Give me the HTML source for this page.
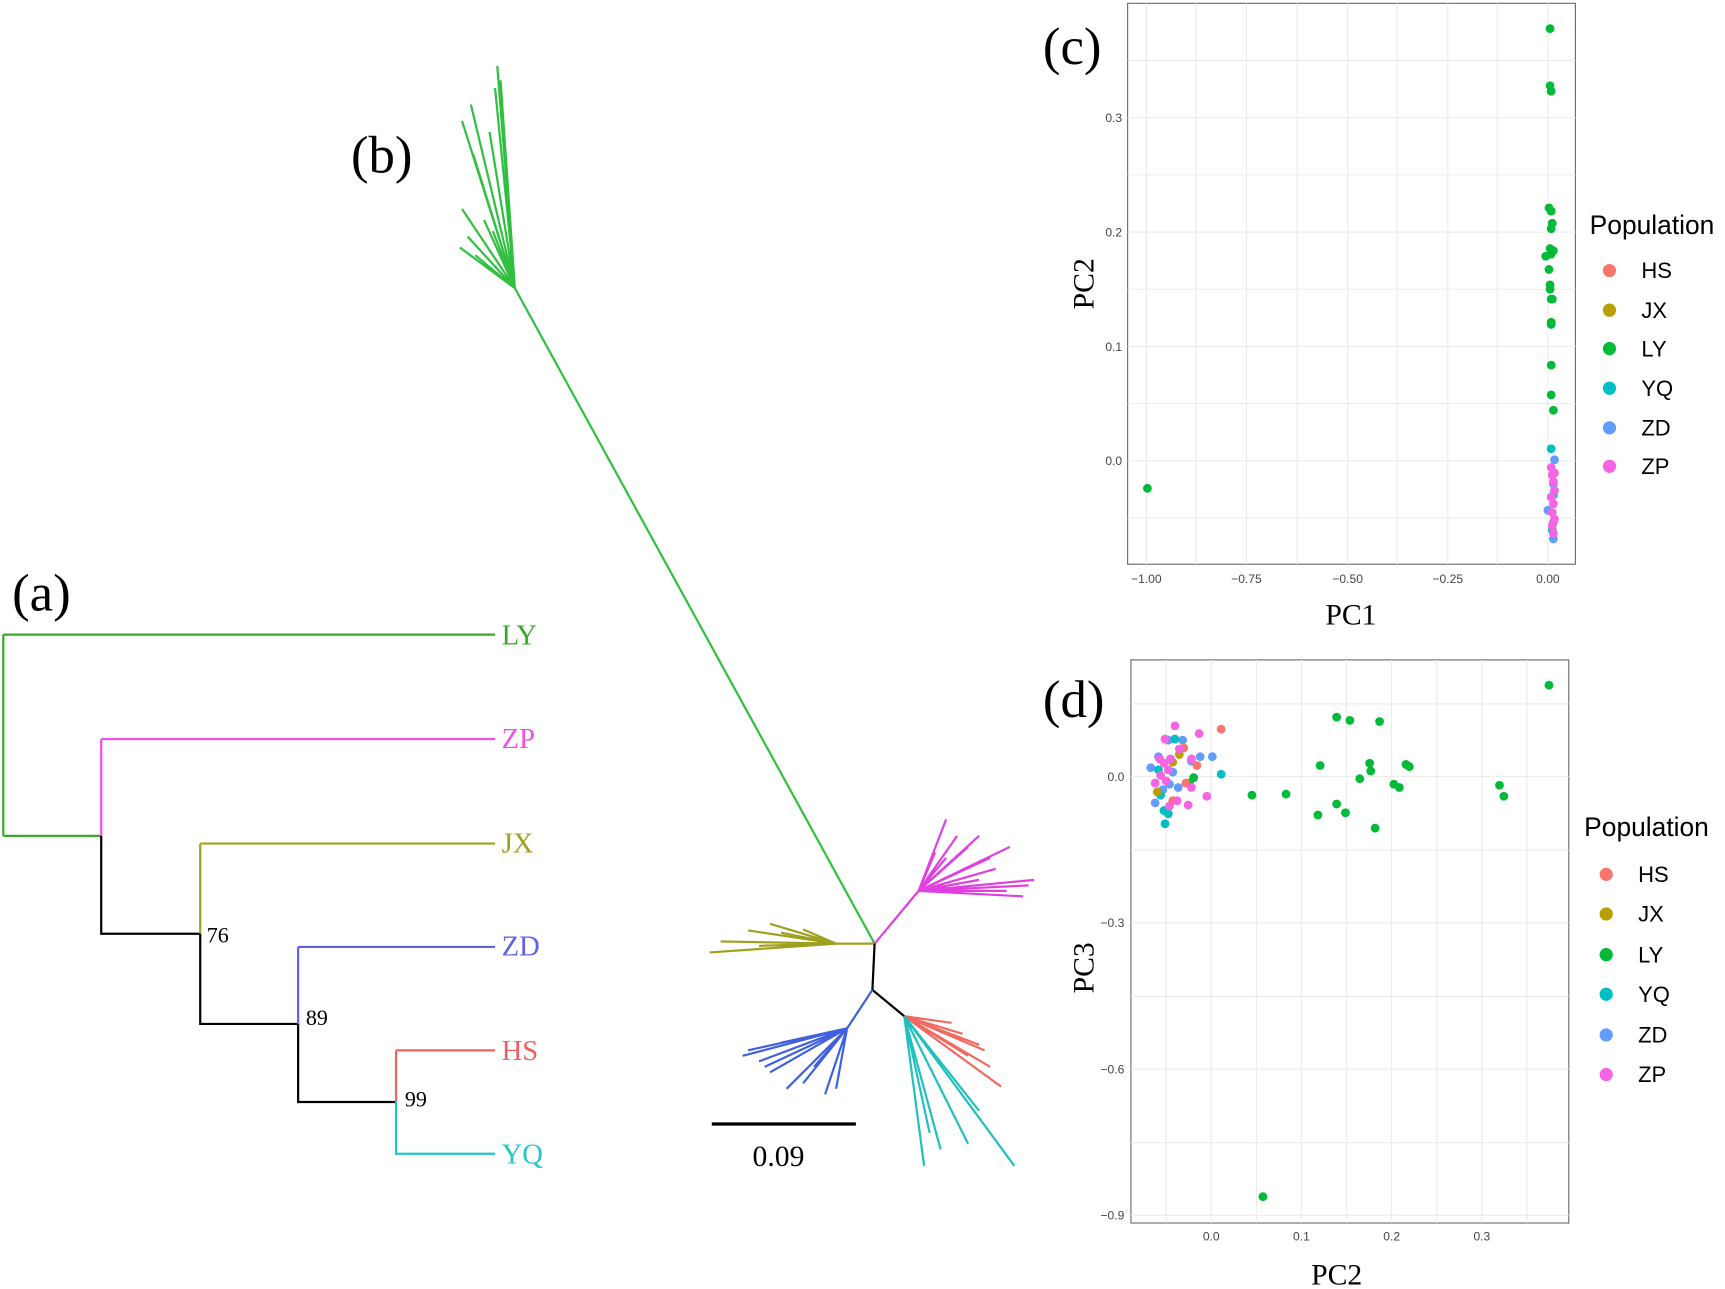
<!DOCTYPE html>
<html><head><meta charset="utf-8"><style>
html,body{margin:0;padding:0;background:#fff;}
svg{display:block;}
.s{font-family:"Liberation Serif",serif;}
.a{font-family:"Liberation Sans",sans-serif;}
</style></head><body>
<svg width="1725" height="1289" viewBox="0 0 1568 1172" preserveAspectRatio="none" xmlns="http://www.w3.org/2000/svg">
<rect width="1568" height="1172" fill="#fff"/>
<g fill="none" stroke-width="2">
<path d="M3 577V760" stroke="#3aa82a"/>
<path d="M3 577H450" stroke="#3aa82a"/>
<path d="M3 760H92" stroke="#3aa82a"/>
<path d="M92 672V760M92 672H450" stroke="#f050e8"/>
<path d="M92 760V849H182" stroke="#000"/>
<path d="M182 767V849M182 767H450" stroke="#a0a020"/>
<path d="M182 849V931H271" stroke="#000"/>
<path d="M271 861V931M271 861H450" stroke="#6060e8"/>
<path d="M271 931V1002H360" stroke="#000"/>
<path d="M360 955V1002M360 955H450" stroke="#f06060"/>
<path d="M360 1002V1049H450" stroke="#20c8c8"/>
</g>
<g class="s" font-size="26">
<text x="456" y="586" fill="#3aa82a">LY</text>
<text x="456" y="680" fill="#f050e8">ZP</text>
<text x="456" y="775" fill="#a0a020">JX</text>
<text x="456" y="869" fill="#6060e8">ZD</text>
<text x="456" y="964" fill="#f06060">HS</text>
<text x="456" y="1058" fill="#20c8c8">YQ</text>
</g>
<g class="s" font-size="20" fill="#000">
<text x="188" y="857">76</text><text x="278" y="932">89</text><text x="368" y="1006">99</text>
</g>
<text class="s" x="11" y="555" font-size="48">(a)</text>
<text class="s" x="319" y="157" font-size="48">(b)</text>
<text class="s" x="948" y="58" font-size="48">(c)</text>
<text class="s" x="948" y="652" font-size="48">(d)</text>
<g fill="none" stroke-width="2">
<g stroke="#30c040">
<path d="M795 858L468 262"/>
<path d="M468 262L420 110M468 262L455 73M468 262L445 120M468 262L430 140M468 262L420 190M468 262L450 80M468 262L440 200M468 262L425 215M468 262L432 232M468 262L452 60M468 262L428 95M468 262L448 210M468 262L418 225"/>
</g>
<g stroke="#e040e0">
<path d="M795 858L835 810"/>
<path d="M835 810L890 760M835 810L860 745M835 810L850 775M835 810L880 770M835 810L900 780M835 810L918 770M835 810L940 800M835 810L935 805M835 810L915 810M835 810L930 815M835 810L870 760M835 810L905 790M835 810L860 780M835 810L890 800"/>
</g>
<g stroke="#a0a020">
<path d="M795 858L760 858"/>
<path d="M760 858L645 866M760 858L655 856M760 858L680 846M760 858L700 840M760 858L720 852M760 858L690 860M760 858L710 848M760 858L730 845"/>
</g>
<path d="M795 858L793 900L822 924" stroke="#000"/>
<g stroke="#4060e0">
<path d="M793 900L770 935"/>
<path d="M770 935L680 955M770 935L690 965M770 935L700 975M770 935L715 990M770 935L740 970M770 935L675 960M770 935L710 948M770 935L760 990M770 935L730 985M770 935L750 995M770 935L695 970M770 935L745 960"/>
</g>
<g stroke="#f06a60">
<path d="M822 924L910 988M822 924L900 970M822 924L890 950M822 924L875 940M822 924L865 930M822 924L880 960M822 924L895 955"/>
</g>
<g stroke="#20c0c0">
<path d="M822 924L922 1060M822 924L840 1060M822 924L855 1045M822 924L870 1020M822 924L880 1040M822 924L890 1010M822 924L860 1000M822 924L845 1030"/>
</g>
</g>
<path d="M647 1022H778" stroke="#000" stroke-width="3"/>
<text class="s" x="684" y="1060" font-size="27">0.09</text>
<g>
<rect x="1025" y="3" width="407" height="510" fill="#fff" stroke="#666" stroke-width="1"/>
<g stroke="#ebebeb" stroke-width="1">
<path d="M1042 3V513M1133 3V513M1225 3V513M1316 3V513M1407 3V513M1087 3V513M1179 3V513M1270 3V513M1361 3V513"/>
<path d="M1025 107H1432M1025 211H1432M1025 315H1432M1025 419H1432M1025 55H1432M1025 159H1432M1025 263H1432M1025 367H1432M1025 471H1432"/>
</g>
<g class="a" font-size="11" fill="#444" text-anchor="end">
<text x="1020" y="111">0.3</text><text x="1020" y="215">0.2</text><text x="1020" y="319">0.1</text><text x="1020" y="423">0.0</text>
</g>
<g class="a" font-size="11" fill="#444" text-anchor="middle">
<text x="1042" y="530">−1.00</text><text x="1133" y="530">−0.75</text><text x="1225" y="530">−0.50</text><text x="1316" y="530">−0.25</text><text x="1407" y="530">0.00</text>
</g>
<text class="s" x="1228" y="568" font-size="27" text-anchor="middle">PC1</text>
<text class="s" transform="translate(994 258) rotate(-90)" font-size="27" text-anchor="middle">PC2</text>
<g fill="#00ba38">
<circle cx="1043" cy="444" r="4"/>
<circle cx="1409" cy="26" r="4"/><circle cx="1409" cy="78" r="4"/><circle cx="1410" cy="83" r="4"/><circle cx="1408" cy="189" r="4"/><circle cx="1410" cy="192" r="4"/><circle cx="1411" cy="203" r="4"/><circle cx="1410" cy="208" r="4"/><circle cx="1409" cy="226" r="4"/><circle cx="1412" cy="228" r="4"/><circle cx="1405" cy="233" r="4"/><circle cx="1410" cy="231" r="4"/><circle cx="1408" cy="245" r="4"/><circle cx="1409" cy="259" r="4"/><circle cx="1409" cy="263" r="4"/><circle cx="1410" cy="272" r="4"/><circle cx="1411" cy="272" r="4"/><circle cx="1410" cy="293" r="4"/><circle cx="1410" cy="295" r="4"/><circle cx="1410" cy="332" r="4"/><circle cx="1410" cy="359" r="4"/><circle cx="1412" cy="373" r="4"/>
</g>
<circle cx="1410" cy="408" r="4" fill="#00bfc4"/>
<circle cx="1413" cy="418" r="4" fill="#619cff"/>
<g fill="#619cff"><circle cx="1407" cy="464" r="4"/><circle cx="1412" cy="490" r="4"/><circle cx="1412" cy="440" r="4"/><circle cx="1412" cy="475" r="4"/></g>
<g fill="#00bfc4"><circle cx="1412" cy="450" r="4"/><circle cx="1411" cy="482" r="4"/></g>
<g fill="#f564e3"><circle cx="1410" cy="425" r="4"/><circle cx="1411" cy="432" r="4"/><circle cx="1412" cy="438" r="4"/><circle cx="1413" cy="446" r="4"/><circle cx="1410" cy="452" r="4"/><circle cx="1412" cy="458" r="4"/><circle cx="1411" cy="466" r="4"/><circle cx="1413" cy="472" r="4"/><circle cx="1411" cy="478" r="4"/><circle cx="1412" cy="485" r="4"/><circle cx="1413" cy="430" r="4"/></g>
<text class="a" x="1445" y="213" font-size="24">Population</text>
<g class="a" font-size="20">
<circle cx="1463" cy="246" r="6" fill="#f8766d"/><text x="1492" y="253">HS</text>
<circle cx="1463" cy="282" r="6" fill="#b79f00"/><text x="1492" y="289">JX</text>
<circle cx="1463" cy="317" r="6" fill="#00ba38"/><text x="1492" y="324">LY</text>
<circle cx="1463" cy="353" r="6" fill="#00bfc4"/><text x="1492" y="360">YQ</text>
<circle cx="1463" cy="389" r="6" fill="#619cff"/><text x="1492" y="396">ZD</text>
<circle cx="1463" cy="424" r="6" fill="#f564e3"/><text x="1492" y="431">ZP</text>
</g>
</g>
<g>
<rect x="1028" y="600" width="398" height="512" fill="#fff" stroke="#666" stroke-width="1"/>
<g stroke="#ebebeb" stroke-width="1">
<path d="M1101 600V1112M1183 600V1112M1265 600V1112M1347 600V1112M1060 600V1112M1142 600V1112M1224 600V1112M1306 600V1112M1388 600V1112"/>
<path d="M1028 706H1426M1028 839H1426M1028 972H1426M1028 1105H1426M1028 640H1426M1028 773H1426M1028 906H1426M1028 1039H1426"/>
</g>
<g class="a" font-size="11" fill="#444" text-anchor="end">
<text x="1022" y="710">0.0</text><text x="1022" y="843">−0.3</text><text x="1022" y="976">−0.6</text><text x="1022" y="1109">−0.9</text>
</g>
<g class="a" font-size="11" fill="#444" text-anchor="middle">
<text x="1101" y="1128">0.0</text><text x="1183" y="1128">0.1</text><text x="1265" y="1128">0.2</text><text x="1347" y="1128">0.3</text>
</g>
<text class="s" x="1215" y="1168" font-size="27" text-anchor="middle">PC2</text>
<text class="s" transform="translate(994 880) rotate(-90)" font-size="27" text-anchor="middle">PC3</text>
<g fill="#00ba38">
<circle cx="1408" cy="623" r="4"/><circle cx="1215" cy="652" r="4"/><circle cx="1227" cy="655" r="4"/><circle cx="1254" cy="656" r="4"/><circle cx="1138" cy="723" r="4"/><circle cx="1169" cy="722" r="4"/><circle cx="1200" cy="696" r="4"/><circle cx="1245" cy="694" r="4"/><circle cx="1246" cy="701" r="4"/><circle cx="1236" cy="708" r="4"/><circle cx="1278" cy="695" r="4"/><circle cx="1281" cy="697" r="4"/><circle cx="1267" cy="713" r="4"/><circle cx="1272" cy="716" r="4"/><circle cx="1363" cy="714" r="4"/><circle cx="1367" cy="724" r="4"/><circle cx="1198" cy="741" r="4"/><circle cx="1215" cy="731" r="4"/><circle cx="1223" cy="739" r="4"/><circle cx="1250" cy="753" r="4"/><circle cx="1148" cy="1088" r="4"/><circle cx="1081" cy="712" r="4"/><circle cx="1085" cy="707" r="4"/>
</g>
<g fill="#619cff"><circle cx="1046" cy="698" r="4"/><circle cx="1053" cy="688" r="4"/><circle cx="1062" cy="673" r="4"/><circle cx="1075" cy="673" r="4"/><circle cx="1091" cy="688" r="4"/><circle cx="1083" cy="692" r="4"/><circle cx="1066" cy="702" r="4"/><circle cx="1063" cy="713" r="4"/><circle cx="1071" cy="716" r="4"/><circle cx="1050" cy="730" r="4"/><circle cx="1102" cy="688" r="4"/><circle cx="1057" cy="718" r="4"/></g>
<g fill="#00bfc4"><circle cx="1053" cy="700" r="4"/><circle cx="1068" cy="672" r="4"/><circle cx="1110" cy="704" r="4"/><circle cx="1058" cy="737" r="4"/><circle cx="1059" cy="749" r="4"/><circle cx="1055" cy="723" r="4"/><circle cx="1062" cy="740" r="4"/></g>
<g fill="#f8766d"><circle cx="1110" cy="663" r="4"/><circle cx="1076" cy="680" r="4"/><circle cx="1066" cy="728" r="4"/><circle cx="1078" cy="712" r="4"/><circle cx="1088" cy="696" r="4"/></g>
<g fill="#b79f00"><circle cx="1052" cy="720" r="4"/><circle cx="1072" cy="686" r="4"/><circle cx="1066" cy="693" r="4"/></g>
<g fill="#f564e3"><circle cx="1068" cy="660" r="4"/><circle cx="1059" cy="672" r="4"/><circle cx="1064" cy="690" r="4"/><circle cx="1058" cy="694" r="4"/><circle cx="1055" cy="705" r="4"/><circle cx="1060" cy="710" r="4"/><circle cx="1072" cy="681" r="4"/><circle cx="1090" cy="667" r="4"/><circle cx="1083" cy="690" r="4"/><circle cx="1097" cy="724" r="4"/><circle cx="1083" cy="716" r="4"/><circle cx="1070" cy="728" r="4"/><circle cx="1080" cy="732" r="4"/><circle cx="1063" cy="733" r="4"/><circle cx="1050" cy="712" r="4"/><circle cx="1062" cy="700" r="4"/><circle cx="1054" cy="690" r="4"/></g>
<text class="a" x="1440" y="760" font-size="24">Population</text>
<g class="a" font-size="20">
<circle cx="1460" cy="795" r="6" fill="#f8766d"/><text x="1489" y="802">HS</text>
<circle cx="1460" cy="831" r="6" fill="#b79f00"/><text x="1489" y="838">JX</text>
<circle cx="1460" cy="868" r="6" fill="#00ba38"/><text x="1489" y="875">LY</text>
<circle cx="1460" cy="904" r="6" fill="#00bfc4"/><text x="1489" y="911">YQ</text>
<circle cx="1460" cy="941" r="6" fill="#619cff"/><text x="1489" y="948">ZD</text>
<circle cx="1460" cy="977" r="6" fill="#f564e3"/><text x="1489" y="984">ZP</text>
</g>
</g>
</svg>
</body></html>
